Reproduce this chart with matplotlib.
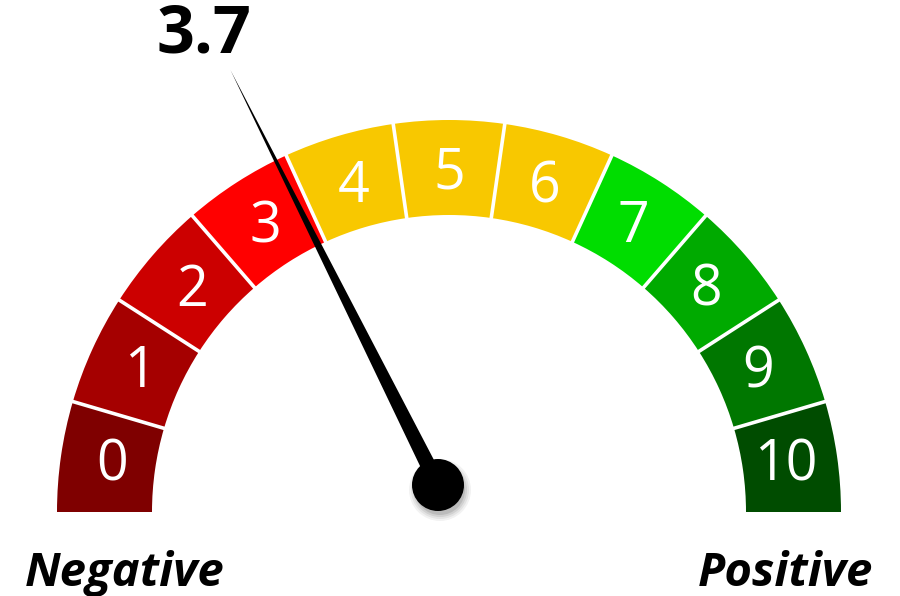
import numpy as np
import matplotlib
matplotlib.use("Agg")
import matplotlib.pyplot as plt
from matplotlib.patches import Wedge, Circle, Polygon

# ============================
# DATA
# ============================
segments = list(range(11))
segment_labels = [str(s) for s in segments]
segment_colors = ["#7F0000", "#A50000", "#CC0000", "#FF0000",
                  "#F8C800", "#F8C800", "#F8C800",
                  "#00DD00", "#00AA00", "#007700", "#004C00"]
value = 3.7
scale_max = 10.5
left_label = "Negative"
right_label = "Positive"

# ============================
# GEOMETRY (pixel units, y up)
# ============================
W, H = 900, 596
cx, cy = 449, H - 512
r_out, r_in = 392, 297
r_lab = 340
pivot = (438, H - 485)
needle_len = 464

fig = plt.figure(figsize=(9, 5.96), dpi=100)
ax = fig.add_axes([0, 0, 1, 1])
ax.set_xlim(0, W)
ax.set_ylim(0, H)
ax.set_aspect("equal")
ax.axis("off")

n = len(segments)
step = 180 / n
for i, (lab, col) in enumerate(zip(segment_labels, segment_colors)):
    t1 = 180 - (i + 1) * step
    t2 = 180 - i * step
    ax.add_patch(Wedge((cx, cy), r_out, t1, t2, width=r_out - r_in,
                       facecolor=col, edgecolor="none", zorder=1))
    mid = np.radians((t1 + t2) / 2)
    ax.text(cx + r_lab * np.cos(mid), cy + r_lab * np.sin(mid) - 2, lab,
            color="white", fontsize=40, family="Open Sans",
            ha="center", va="center", zorder=2)

# white gaps between segments
for i in range(1, n):
    a = np.radians(180 - i * step)
    ax.plot([cx + (r_in - 2) * np.cos(a), cx + (r_out + 2) * np.cos(a)],
            [cy + (r_in - 2) * np.sin(a), cy + (r_out + 2) * np.sin(a)],
            color="white", lw=2.6, solid_capstyle="butt", zorder=1.5)

# ============================
# NEEDLE
# ============================
ang = np.radians(180 * (1 - value / scale_max))
dx, dy = np.cos(ang), np.sin(ang)
px, py = -dy, dx
half_w = 8
tip = (pivot[0] + needle_len * dx, pivot[1] + needle_len * dy)
needle = Polygon([(pivot[0] + half_w * px, pivot[1] + half_w * py),
                  tip,
                  (pivot[0] - half_w * px, pivot[1] - half_w * py)],
                 closed=True, facecolor="black", edgecolor="none", zorder=5)
ax.add_patch(needle)

# shadow under the hub
for k, a in enumerate([0.05, 0.06, 0.08, 0.10]):
    ax.add_patch(Circle((pivot[0] + 2, pivot[1] - 5), 31 - 2 * k,
                        facecolor="black", alpha=a, edgecolor="none", zorder=4))
ax.add_patch(Circle(pivot, 26, facecolor="black", edgecolor="none", zorder=6))

# ============================
# TEXT
# ============================
ax.text(204, H - 35, f"{value}", fontsize=48, fontweight="bold",
        family="Open Sans", ha="center", va="center", color="black")
ax.text(25, H - 586, left_label, fontsize=34, fontweight="bold",
        style="italic", family="Open Sans", ha="left", va="baseline")
ax.text(873, H - 586, right_label, fontsize=34, fontweight="bold",
        style="italic", family="Open Sans", ha="right", va="baseline")

plt.savefig("out.png", dpi=100)
